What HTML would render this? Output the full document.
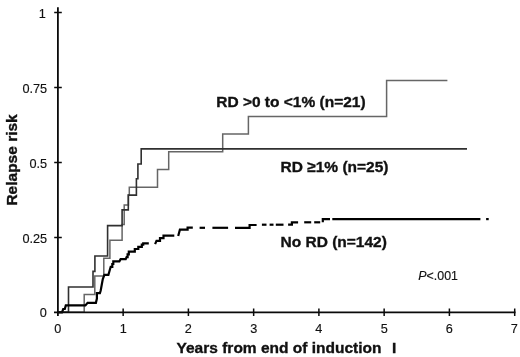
<!DOCTYPE html>
<html>
<head>
<meta charset="utf-8">
<title>Relapse risk</title>
<style>
html,body{margin:0;padding:0;background:#fff;}
body{width:520px;height:357px;overflow:hidden;}
svg{display:block;}
text{font-family:"Liberation Sans",sans-serif;fill:#111;}
.b{font-weight:bold;font-size:15.5px;stroke:#111;stroke-width:0.35px;}
.n{font-size:12.7px;stroke:#111;stroke-width:0.15px;}
.p{font-size:12.4px;stroke:#111;stroke-width:0.15px;}
</style>
</head>
<body>
<svg width="520" height="357" viewBox="0 0 520 357">
<rect x="0" y="0" width="520" height="357" fill="#ffffff"/>

<!-- light gray curve: RD >0 to <1% -->
<path fill="none" stroke="#666666" stroke-width="1.5" stroke-linejoin="miter" d="M57.9 312.3 H84.2 V294.4 H94.8 V276 H103.8 V258.3 H109.9 V240.3 H122.1 V224.6 H124.2 V205 H128.4 V195.1 H129.3 V187.3 H157.5 V169.4 H168.7 V151.7 H222.7 V134.1 H248.4 V116.6 H386.6 V80.4 H447.4"/>

<!-- dark gray curve: RD >=1% -->
<path fill="none" stroke="#303030" stroke-width="1.6" stroke-linejoin="miter" d="M57.9 312.3 H68.5 V287 H93 V271.4 H94.9 V256 H107.6 V225.6 H122.1 V209.9 H128.3 V195.1 H136.4 V178.8 H137.9 V164 H141.2 V148.9 H467"/>

<!-- black curve: No RD -->
<g fill="none" stroke="#000" stroke-width="2.2" stroke-linejoin="miter">
<path d="M57.9 312.3 H62 L63.2 309 H64.8 L65.8 305.4 H85.4 L87.6 302.8 H95.9 L96.9 298.5 V293.2 H99.9 L100.7 290.5 L101.7 285 L102.8 279 L104.4 274.8 H108.4 L109.5 271 L110.7 266.8 H112.3 V264 H113.3 V261.3 H119.4 L120.6 259.2 H125.7 L126.6 257.1 H127.6 V254.4 H128.8 V251.7 H134.8 V249 H138.3 V246.9 H141.8 V244.7 H143.2 V243.4 H148.8"/>
<path d="M155.1 244.1 L156.5 240.9 H160 V238.1 H163.5 V235.7 H174.3"/>
<path d="M178.2 236 L179.9 229.7 H187.6 V227.7 H192.8"/>
<path d="M199.6 227.8 H205"/>
<path d="M212.4 227.8 H228.1"/>
<path d="M235 227.8 H249.6 V225 H256.6"/>
<path d="M261.9 224.7 H266.5"/>
<path d="M269.6 224.7 H273.5"/>
<path d="M275.8 224.7 H283.5"/>
<path d="M288.1 224.7 H291.9 V222.3 H298.1"/>
<path d="M304.2 222.3 H311.2"/>
<path d="M314.2 222.3 H320.2"/>
<path d="M322.8 222.3 V219.1 H330"/>
<path d="M332.3 219.1 H480.4"/>
<path d="M486.1 219.1 H488.7"/>
</g>

<!-- axes -->
<g fill="none" stroke="#0a0a0a" stroke-width="1.8">
<path d="M57.9 7.2 V316"/>
<path d="M54 312.3 H515.5"/>
</g>
<g fill="none" stroke="#0a0a0a" stroke-width="1.5">
<path d="M54.2 12.5 H61.8 M54.2 87.5 H61.8 M54.2 162.5 H61.8 M54.2 237.5 H61.8"/>
<path d="M123.15 308.6 V316 M188.4 308.6 V316 M253.65 308.6 V316 M318.9 308.6 V316 M384.15 308.6 V316 M449.4 308.6 V316 M514.7 308.6 V316"/>
</g>

<!-- y tick labels -->
<g class="n" text-anchor="end">
<text transform="translate(45.7,17.8)">1</text>
<text transform="translate(47.1,92.7)">0.75</text>
<text transform="translate(47.1,167.7)">0.5</text>
<text transform="translate(47.1,242.7)">0.25</text>
<text transform="translate(46.9,317.4)">0</text>
</g>
<!-- x tick labels -->
<g class="n" text-anchor="middle">
<text transform="translate(57.9,332.7)">0</text>
<text transform="translate(123.2,332.7)">1</text>
<text transform="translate(188.4,332.7)">2</text>
<text transform="translate(253.7,332.7)">3</text>
<text transform="translate(318.9,332.7)">4</text>
<text transform="translate(384.2,332.7)">5</text>
<text transform="translate(449.4,332.7)">6</text>
<text transform="translate(514.3,332.7)">7</text>
</g>

<!-- titles -->
<text class="b" transform="translate(16.8,205.6) rotate(-90)">Relapse risk</text>
<text class="b" transform="translate(176.5,352.8)" xml:space="preserve" style="white-space:pre">Years from end of induction  <tspan dx="1.8">I</tspan></text>

<!-- curve labels -->
<text class="b" transform="translate(216.2,106.5)">RD &gt;0 to &lt;1% (n=21)</text>
<text class="b" transform="translate(280.5,171.5)">RD ≥1% (n=25)</text>
<text class="b" transform="translate(280.5,247.2)">No RD (n=142)</text>
<text class="p" transform="translate(418.3,280.3)"><tspan font-style="italic">P</tspan>&lt;.001</text>
</svg>
</body>
</html>
